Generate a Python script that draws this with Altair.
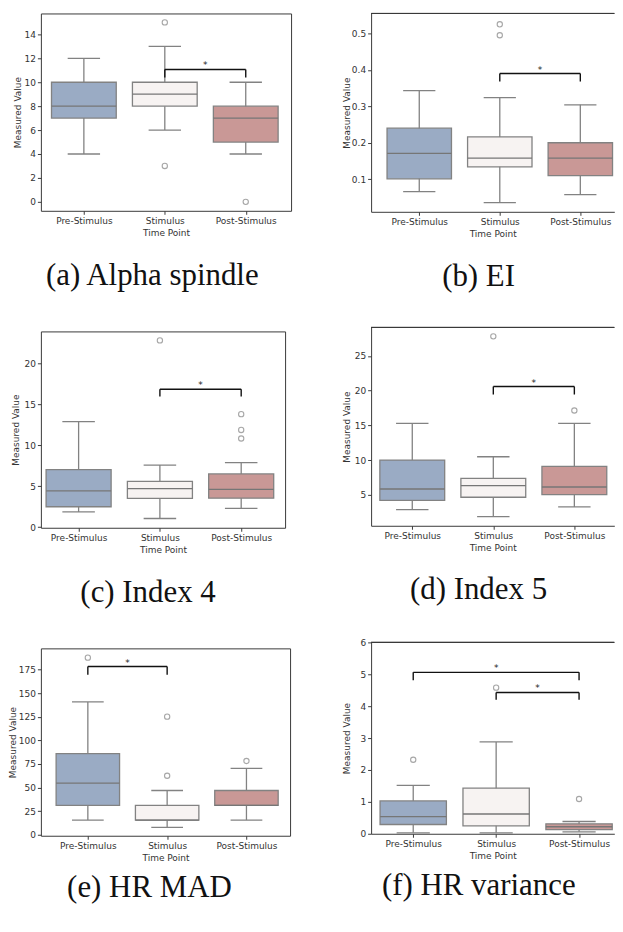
import altair as alt
import pandas as pd

categories = ["Pre-Stimulus", "Stimulus", "Post-Stimulus"]
fill_colors = ["#9aabc4", "#f7f3f2", "#c99896"]

# (a) Alpha spindle
alpha_low = [4, 6, 4]
alpha_q1 = [7, 8, 5]
alpha_med = [8, 9, 7]
alpha_q3 = [10, 10, 8]
alpha_high = [12, 13, 10]
alpha_outliers = [[], [15, 3], [0]]
alpha_brackets = [(1, 2, 11.07, 10.4)]
alpha_ticks = [0, 2, 4, 6, 8, 10, 12, 14]

# (b) EI
ei_low = [0.066, 0.036, 0.058]
ei_q1 = [0.101, 0.134, 0.110]
ei_med = [0.171, 0.158, 0.158]
ei_q3 = [0.240, 0.216, 0.200]
ei_high = [0.343, 0.324, 0.304]
ei_outliers = [[], [0.525, 0.495], []]
ei_brackets = [(1, 2, 0.390, 0.368)]
ei_ticks = [0.1, 0.2, 0.3, 0.4, 0.5]

# (c) Index 4
i4_low = [1.84, 1.04, 2.28]
i4_q1 = [2.48, 3.49, 3.53]
i4_med = [4.41, 4.69, 4.61]
i4_q3 = [7.01, 5.57, 6.49]
i4_high = [12.87, 7.57, 7.86]
i4_outliers = [[], [22.8], [13.79, 11.86, 10.82]]
i4_brackets = [(1, 2, 16.83, 15.95)]
i4_ticks = [0, 5, 10, 15, 20]

# (d) Index 5
i5_low = [2.89, 1.89, 3.28]
i5_q1 = [4.23, 4.67, 5.05]
i5_med = [5.86, 6.34, 6.15]
i5_q3 = [10.02, 7.39, 9.11]
i5_high = [15.29, 10.50, 15.29]
i5_outliers = [[], [27.82], [17.15]]
i5_brackets = [(1, 2, 20.6, 19.45)]
i5_ticks = [5, 10, 15, 20, 25]

# (e) HR MAD
mad_low = [15.63, 7.81, 15.63]
mad_q1 = [31.25, 15.63, 31.25]
mad_med = [54.69, 15.63, 31.25]
mad_q3 = [85.94, 31.25, 46.88]
mad_high = [140.63, 46.88, 70.31]
mad_outliers = [[187.5], [125.0, 62.5], [78.13]]
mad_brackets = [(0, 1, 178.1, 169.3)]
mad_ticks = [0, 25, 50, 75, 100, 125, 150, 175]

# (f) HR variance
var_low = [0.03, 0.03, 0.06]
var_q1 = [0.29, 0.25, 0.13]
var_med = [0.54, 0.62, 0.22]
var_q3 = [1.03, 1.43, 0.31]
var_high = [1.52, 2.88, 0.385]
var_outliers = [[2.32], [4.58], [1.09]]
var_brackets = [(0, 2, 5.06, 4.81), (1, 2, 4.43, 4.20)]
var_ticks = [0, 1, 2, 3, 4, 5, 6]

FRAME = "#3a3a3a"
EDGE = "#828282"
TXT = "#333333"

label_expr = "[" + ",".join("'%s'" % c for c in categories) + "][datum.value]"


def build_panel(caption, low, q1, med, q3, high, outliers, brackets,
                ydom, yticks, yfmt, width, height, xdom, title_pad, open_right, cap_offset):
    idx = list(range(len(categories)))
    box = pd.DataFrame({"cat": categories, "i": idx, "low": low, "q1": q1,
                        "med": med, "q3": q3, "high": high})
    box["xl"] = box["i"] - 0.4
    box["xr"] = box["i"] + 0.4
    box["cl"] = box["i"] - 0.2
    box["cr"] = box["i"] + 0.2
    out = pd.DataFrame([{"i": i, "v": v} for i, vals in enumerate(outliers) for v in vals])
    segs, stars = [], []
    for (i1, i2, ybar, yend) in brackets:
        segs.append({"x": i1, "x2": i2, "y": ybar, "y2": ybar})
        segs.append({"x": i1, "x2": i1, "y": yend, "y2": ybar})
        segs.append({"x": i2, "x2": i2, "y": yend, "y2": ybar})
        stars.append({"x": (i1 + i2) / 2, "y": ybar, "t": "*"})
    segs = pd.DataFrame(segs)
    stars = pd.DataFrame(stars)

    xs = alt.Scale(domain=xdom, nice=False, zero=False)
    ys = alt.Scale(domain=ydom, nice=False, zero=False)
    xaxis = alt.Axis(values=idx, labelExpr=label_expr, title="Time Point",
                     tickSize=3.5, labelPadding=2, titlePadding=3,
                     labelOverlap=False, labelFlush=False, grid=False,
                     domain=open_right)
    yaxis = alt.Axis(values=yticks, format=yfmt, title="Measured Value",
                     tickSize=3.5, labelPadding=2, titlePadding=title_pad,
                     labelOverlap=False, labelFlush=False, grid=False,
                     domain=open_right)

    def X(f):
        return alt.X(f, scale=xs, axis=xaxis)

    def Y(f):
        return alt.Y(f, scale=ys, axis=yaxis)

    whisk = alt.Chart(box).mark_rule(color=EDGE, strokeWidth=1.3).encode(
        x=X("i:Q"), y=Y("low:Q"), y2="high:Q",
    )
    cap_lo = alt.Chart(box).mark_rule(color=EDGE, strokeWidth=1.3).encode(
        x=X("cl:Q"), x2="cr:Q", y=Y("low:Q"),
    )
    cap_hi = alt.Chart(box).mark_rule(color=EDGE, strokeWidth=1.3).encode(
        x=X("cl:Q"), x2="cr:Q", y=Y("high:Q"),
    )
    rect = alt.Chart(box).mark_rect(stroke=EDGE, strokeWidth=1.3).encode(
        x=X("xl:Q"), x2="xr:Q", y=Y("q1:Q"), y2="q3:Q",
        fill=alt.Fill("cat:N", scale=alt.Scale(domain=categories, range=fill_colors), legend=None),
    )
    median = alt.Chart(box).mark_rule(color="#767676", strokeWidth=1.3).encode(
        x=X("xl:Q"), x2="xr:Q", y=Y("med:Q"),
    )
    layers = [whisk, cap_lo, cap_hi, rect, median]
    if len(out):
        layers.append(alt.Chart(out).mark_point(shape="circle", filled=False, size=28,
                                                color=EDGE, strokeWidth=1.1).encode(
            x=X("i:Q"), y=Y("v:Q"),
        ))
    layers.append(alt.Chart(segs).mark_rule(color="#111111", strokeWidth=1.4).encode(
        x=X("x:Q"), x2="x2:Q", y=Y("y:Q"), y2="y2:Q",
    ))
    layers.append(alt.Chart(stars).mark_text(fontSize=9, font="DejaVu Sans", color="#222222",
                                             baseline="alphabetic", dy=-1).encode(
        x=X("x:Q"), y=Y("y:Q"), text="t:N",
    ))
    props = dict(
        width=width, height=height,
        title=alt.TitleParams(text=caption, orient="bottom", anchor="middle", frame="bounds",
                              offset=cap_offset, font="Liberation Serif", fontSize=31,
                              fontWeight="normal", color="#111111"),
    )
    if open_right:
        layers.append(alt.Chart(box).mark_rule(color=FRAME, strokeWidth=1).encode(
            x=alt.datum(xdom[0], scale=xs, axis=xaxis), x2=alt.datum(xdom[1]),
            y=alt.datum(ydom[1], scale=ys, axis=yaxis),
        ))
        props["view"] = alt.ViewBackground(stroke=None)
    return alt.layer(*layers).properties(**props)


pa = build_panel("(a) Alpha spindle", alpha_low, alpha_q1, alpha_med, alpha_q3, alpha_high,
                 alpha_outliers, alpha_brackets, [-0.75, 15.75], alpha_ticks, "d",
                 251, 198, [-0.531, 2.56], 1.5, False, 24)
pb = build_panel("(b) EI", ei_low, ei_q1, ei_med, ei_q3, ei_high, ei_outliers, ei_brackets,
                 [0.0106, 0.5547], ei_ticks, ".1f", 244, 199, [-0.598, 2.422], 0, True, 24)
pc = build_panel("(c) Index 4", i4_low, i4_q1, i4_med, i4_q3, i4_high, i4_outliers, i4_brackets,
                 [-0.09, 23.9], i4_ticks, "d", 245, 197, [-0.464, 2.54], 4, False, 24)
pd_ = build_panel("(d) Index 5", i5_low, i5_q1, i5_med, i5_q3, i5_high, i5_outliers, i5_brackets,
                  [0.57, 29.1], i5_ticks, "d", 244, 199, [-0.508, 2.493], 3, True, 22.5)
pe = build_panel("(e) HR MAD", mad_low, mad_q1, mad_med, mad_q3, mad_high, mad_outliers,
                 mad_brackets, [-1.0, 197.3], mad_ticks, "d", 250, 188, [-0.592, 2.55], 0.5, False, 11)
pf = build_panel("(f) HR variance", var_low, var_q1, var_med, var_q3, var_high, var_outliers,
                 var_brackets, [0, 6], var_ticks, "d", 244, 192, [-0.508, 2.425], 8.2, True, 11)

left = alt.vconcat(pa, pc, pe, spacing=39)
right = alt.vconcat(pb, pd_, pf, spacing=34)

chart = alt.hconcat(left, right, spacing=50.3).properties(
    padding={"left": 0, "top": 3, "right": 0, "bottom": 0},
    background="white",
).configure_view(stroke=FRAME, strokeWidth=1).configure_axis(
    labelFont="DejaVu Sans", labelFontSize=9, labelColor=TXT,
    titleFont="DejaVu Sans", titleFontSize=9, titleFontWeight="normal", titleColor=TXT,
    domainColor=FRAME, domainWidth=1, tickColor=FRAME, tickWidth=1,
)

chart.save("out.html", embed_options={"renderer": "svg", "actions": False})
